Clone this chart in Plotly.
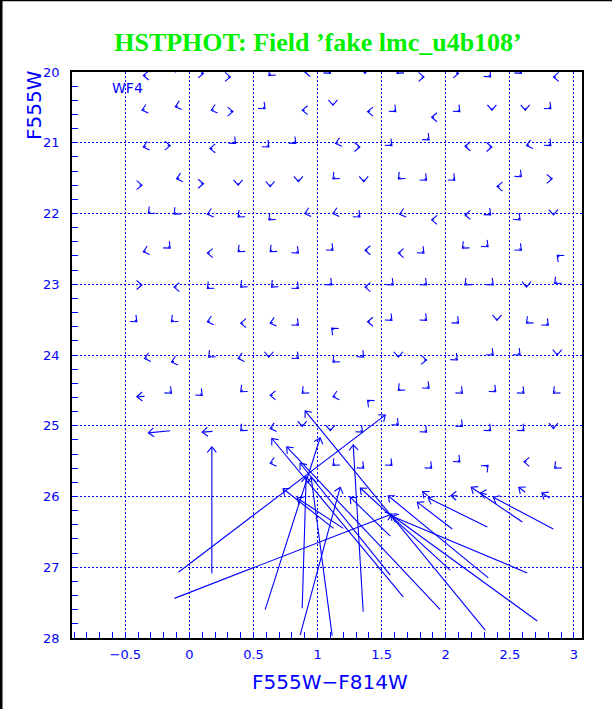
import numpy as np
import plotly.graph_objects as go

# ---------------- data: fake-star input -> output (colour, magnitude) ----------------
# small displacements on the regular input grid (rows 20 ... 26)
c_out = [
 -0.36,-0.11,0.11,0.32,0.62,0.90,1.10,1.37,1.62,1.83,2.10,2.35,2.59,2.84,
 -0.37,-0.11,0.17,0.34,0.59,0.88,1.12,1.39,1.61,1.89,2.11,2.36,2.62,2.82,
 -0.36,-0.15,0.16,0.36,0.62,0.83,1.14,1.33,1.58,1.87,2.15,2.36,2.63,2.82,
 -0.37,-0.10,0.11,0.38,0.63,0.85,1.12,1.36,1.63,1.85,2.07,2.40,2.59,2.83,
 -0.32,-0.12,0.14,0.38,0.62,0.90,1.12,1.33,1.64,1.89,2.15,2.35,2.58,2.84,
 -0.36,-0.15,0.14,0.38,0.63,0.85,1.12,1.37,1.63,1.83,2.13,2.33,2.59,2.87,
 -0.37,-0.12,0.14,0.40,0.64,0.85,1.11,1.37,1.59,1.85,2.15,2.37,2.63,2.85,
 -0.41,-0.14,0.14,0.40,0.63,0.85,1.11,1.39,1.58,1.85,2.10,2.40,2.63,2.80,
 -0.35,-0.14,0.15,0.38,0.62,0.85,1.12,1.36,1.63,1.85,2.09,2.37,2.58,2.87,
 -0.41,-0.14,0.10,0.40,0.63,0.88,1.12,1.39,1.63,1.87,2.13,2.39,2.61,2.84,
 -0.32,0.10,0.40,0.63,0.88,1.10,1.35,1.63,1.85,2.13,2.35,2.61,2.84,
 0.63,1.12,1.36,1.58,1.89,2.11,2.33,2.61,2.85,
 1.82,2.04,2.27,2.57,2.75,
]
m_out = [
 20.05,20.00,20.02,20.07,20.05,20.00,20.02,20.02,20.02,20.07,20.02,20.07,20.02,20.07,
 20.54,20.49,20.54,20.56,20.52,20.54,20.47,20.56,20.56,20.64,20.56,20.54,20.54,20.52,
 21.06,21.04,21.08,21.01,21.06,21.01,21.01,21.06,21.04,20.96,21.05,21.06,21.04,21.04,
 21.60,21.51,21.58,21.60,21.62,21.55,21.51,21.55,21.51,21.53,21.53,21.62,21.48,21.51,
 22.00,22.01,22.01,22.05,22.09,22.00,22.00,22.05,22.01,22.09,22.02,22.02,22.09,22.02,
 22.54,22.49,22.56,22.54,22.54,22.56,22.52,22.52,22.56,22.56,22.49,22.47,22.52,22.59,
 23.01,23.04,23.06,23.04,23.04,23.06,23.01,23.04,23.01,23.01,23.01,23.01,23.04,22.99,
 23.53,23.53,23.53,23.55,23.55,23.58,23.62,23.53,23.51,23.51,23.55,23.51,23.55,23.58,
 24.05,24.10,24.03,24.05,24.03,24.05,24.10,24.03,24.03,24.07,24.07,24.00,24.00,24.00,
 24.59,24.54,24.57,24.52,24.57,24.54,24.59,24.64,24.50,24.47,24.54,24.52,24.54,24.54,
 25.10,25.09,25.07,25.04,25.01,25.07,25.09,24.99,25.09,25.01,25.07,25.07,25.04,
 25.53,25.56,25.60,25.56,25.60,25.51,25.56,25.51,25.60,
 25.93,25.99,25.95,25.87,25.95,
]
c_in = [
 -0.34,-0.11,0.09,0.30,0.635,0.92,1.085,1.37,1.635,1.81,2.08,2.335,2.575,2.86,
 -0.35,-0.09,0.19,0.32,0.575,0.90,1.12,1.41,1.595,1.91,2.095,2.36,2.62,2.805,
 -0.34,-0.17,0.18,0.345,0.605,0.815,1.16,1.31,1.565,1.855,2.17,2.34,2.65,2.805,
 -0.39,-0.08,0.09,0.38,0.63,0.85,1.135,1.36,1.645,1.835,2.055,2.42,2.575,2.81,
 -0.305,-0.105,0.16,0.395,0.635,0.92,1.14,1.315,1.66,1.91,2.17,2.335,2.565,2.84,
 -0.34,-0.165,0.16,0.395,0.645,0.835,1.105,1.39,1.65,1.815,2.145,2.315,2.575,2.885,
 -0.39,-0.10,0.155,0.415,0.655,0.835,1.095,1.39,1.575,1.835,2.165,2.355,2.63,2.865,
 -0.425,-0.125,0.16,0.42,0.65,0.835,1.125,1.41,1.565,1.835,2.085,2.40,2.645,2.785,
 -0.33,-0.12,0.165,0.40,0.62,0.835,1.135,1.345,1.63,1.83,2.075,2.355,2.565,2.87,
 -0.35,-0.155,0.085,0.415,0.65,0.895,1.14,1.405,1.645,1.855,2.115,2.375,2.595,2.855,
 -0.15,0.18,0.415,0.65,0.88,1.10,1.335,1.615,1.835,2.115,2.335,2.595,2.84,
 0.65,1.135,1.345,1.565,1.875,2.095,2.315,2.63,2.865,
 1.86,2.09,2.32,2.62,2.81,
]
m_in = [
 20.05,19.97,20.02,20.07,20.023,20.00,19.993,19.99,19.993,20.07,20.02,20.043,19.993,20.07,
 20.53,20.48,20.53,20.56,20.495,20.54,20.44,20.56,20.535,20.64,20.535,20.51,20.51,20.495,
 21.05,21.04,21.08,20.985,21.035,20.985,21.00,21.06,21.015,20.935,21.05,21.06,21.03,21.015,
 21.60,21.50,21.58,21.57,21.59,21.52,21.485,21.52,21.485,21.505,21.505,21.62,21.455,21.51,
 21.975,21.985,22.00,22.025,22.065,21.99,21.99,22.025,22.00,22.09,22.02,21.995,22.065,21.99,
 22.53,22.465,22.56,22.515,22.515,22.535,22.495,22.52,22.56,22.535,22.465,22.445,22.495,22.615,
 23.01,23.04,23.035,23.015,23.015,23.035,22.985,23.04,22.985,22.985,22.985,22.985,23.01,22.965,
 23.505,23.505,23.52,23.55,23.54,23.555,23.645,23.53,23.485,23.485,23.525,23.48,23.525,23.555,
 24.04,24.09,24.005,24.04,24.00,24.025,24.075,24.005,24.00,24.07,24.045,23.975,23.975,23.97,
 24.585,24.515,24.545,24.495,24.57,24.515,24.58,24.665,24.475,24.445,24.515,24.495,24.515,24.515,
 25.07,25.08,25.045,25.03,24.98,25.04,25.065,24.965,25.065,24.985,25.045,25.045,25.01,
 25.52,25.535,25.575,25.535,25.575,25.485,25.585,25.51,25.575,
 25.99,25.99,25.97,25.94,26.02,
]

# large displacements (blended / badly recovered fake stars)
big_c_in  = [0.175,-0.086,-0.117,0.591,2.308,1.957,1.668,1.567,1.356,2.714,2.332,2.636,2.035,2.051,1.567,2.324,2.597,2.839,0.864,0.880,1.114,1.124,1.20]
big_m_in  = [27.09,27.07,27.44,27.60,27.89,27.60,27.42,27.11,27.63,27.76,27.15,27.08,27.04,26.46,26.56,26.43,26.36,26.46,27.96,27.58,27.97,26.45,26.45]
big_c_out = [0.175,1.528,1.575,1.020,0.903,0.760,0.643,0.864,1.278,1.567,1.551,1.582,1.333,1.778,1.254,1.863,2.199,2.371,1.176,0.911,0.950,0.731,0.84]
big_m_out = [25.30,24.85,26.25,25.17,24.79,25.30,25.18,25.53,25.27,26.25,25.99,26.28,25.88,26.08,26.01,26.02,25.87,26.01,25.87,25.72,25.73,25.89,26.02]

x_ticks = [-0.5, 0, 0.5, 1, 1.5, 2, 2.5, 3]
x_labels = ["\u22120.5", "0", "0.5", "1", "1.5", "2", "2.5", "3"]
y_ticks = [20, 21, 22, 23, 24, 25, 26, 27, 28]

# ---------------- layout constants ----------------
W, H = 612, 709
ML, MR, MT, MB = 72, 30, 72, 71
XR = [-0.916, 3.063]
YR = [28, 20]
BLUE = "#0000ff"

pw = W - ML - MR
ph = H - MT - MB
sx = pw / (XR[1] - XR[0])
sy = ph / (YR[0] - YR[1])

HEAD = 7.0
ANG = np.radians(40)

def arrows(ci, mi, co, mo):
    xs, ys = [], []
    for a, b, c, d in zip(ci, mi, co, mo):
        dx = (c - a) * sx
        dy = (d - b) * sy
        n = np.hypot(dx, dy)
        ux, uy = dx / n, dy / n
        bx, by = -ux, -uy
        xs += [a, c, None]
        ys += [b, d, None]
        pts = []
        for t in (ANG, -ANG):
            axp = bx * np.cos(t) - by * np.sin(t)
            ayp = bx * np.sin(t) + by * np.cos(t)
            pts.append((c + HEAD * axp / sx, d + HEAD * ayp / sy))
        xs += [pts[0][0], c, pts[1][0], None]
        ys += [pts[0][1], d, pts[1][1], None]
    return xs, ys

xs1, ys1 = arrows(c_in, m_in, c_out, m_out)
xs2, ys2 = arrows(big_c_in, big_m_in, big_c_out, big_m_out)

fig = go.Figure()
fig.add_trace(go.Scatter(x=xs1 + xs2, y=ys1 + ys2, mode="lines",
                         line=dict(color=BLUE, width=1.1), hoverinfo="skip",
                         showlegend=False))

axis_common = dict(
    showline=True, linecolor="black", linewidth=1.5, mirror=True,
    showgrid=True, gridcolor=BLUE, griddash="2px,2px", gridwidth=1,
    zeroline=False, ticks="inside", ticklen=6, tickcolor=BLUE, tickwidth=1,
    tickfont=dict(family="DejaVu Sans", size=13, color=BLUE),
)

fig.update_layout(
    width=W, height=H, autosize=False,
    margin=dict(l=ML, r=MR, t=MT, b=MB),
    paper_bgcolor="white", plot_bgcolor="white",
    xaxis=dict(range=XR, tickvals=x_ticks, ticktext=x_labels,
               minor=dict(dtick=0.1, tick0=0, ticks="inside", ticklen=6, tickcolor=BLUE, showgrid=False),
               ticklabelstandoff=4, **axis_common),
    yaxis=dict(range=YR, tickvals=y_ticks,
               minor=dict(dtick=0.2, tick0=20, ticks="inside", ticklen=6, tickcolor=BLUE, showgrid=False),
               ticklabelstandoff=8, **axis_common),
    title=dict(text="HSTPHOT: Field \u2019fake lmc_u4b108\u2019", x=318 / W, xanchor="center",
               xref="container", yref="container", y=1 - 42 / H, yanchor="middle",
               font=dict(family="Liberation Serif", size=26, color="#00f000", weight="bold")),
    annotations=[
        dict(text="F555W\u2212F814W", xref="paper", yref="paper", x=(330 - ML) / pw, y=-(682 - (H - MB)) / ph,
             xanchor="center", yanchor="middle", showarrow=False,
             font=dict(family="DejaVu Sans", size=20, color=BLUE)),
        dict(text="F555W", xref="paper", yref="paper", x=(34 - ML) / pw, y=1 + 4 / ph, textangle=-90,
             xanchor="center", yanchor="top", showarrow=False,
             font=dict(family="DejaVu Sans", size=20, color=BLUE)),
        dict(text="WF4", xref="paper", yref="paper", x=(127 - ML) / pw, y=1 - (88 - MT) / ph,
             xanchor="center", yanchor="middle", showarrow=False,
             font=dict(family="DejaVu Sans", size=14, color=BLUE)),
    ],
    shapes=[
        dict(type="line", xref="paper", yref="paper", x0=-(ML - 1) / pw, x1=-(ML - 1) / pw,
             y0=-MB / ph, y1=1 + MT / ph, line=dict(color="black", width=3), layer="above"),
        dict(type="line", xref="paper", yref="paper", x0=-ML / pw, x1=(W - ML) / pw,
             y0=1 + (MT - 0.5) / ph, y1=1 + (MT - 0.5) / ph, line=dict(color="black", width=1.5), layer="above"),
    ],
)

fig.write_html("out.html", config={"displayModeBar": False},
               post_script="document.body.style.margin='0px';document.body.style.overflow='hidden';")
